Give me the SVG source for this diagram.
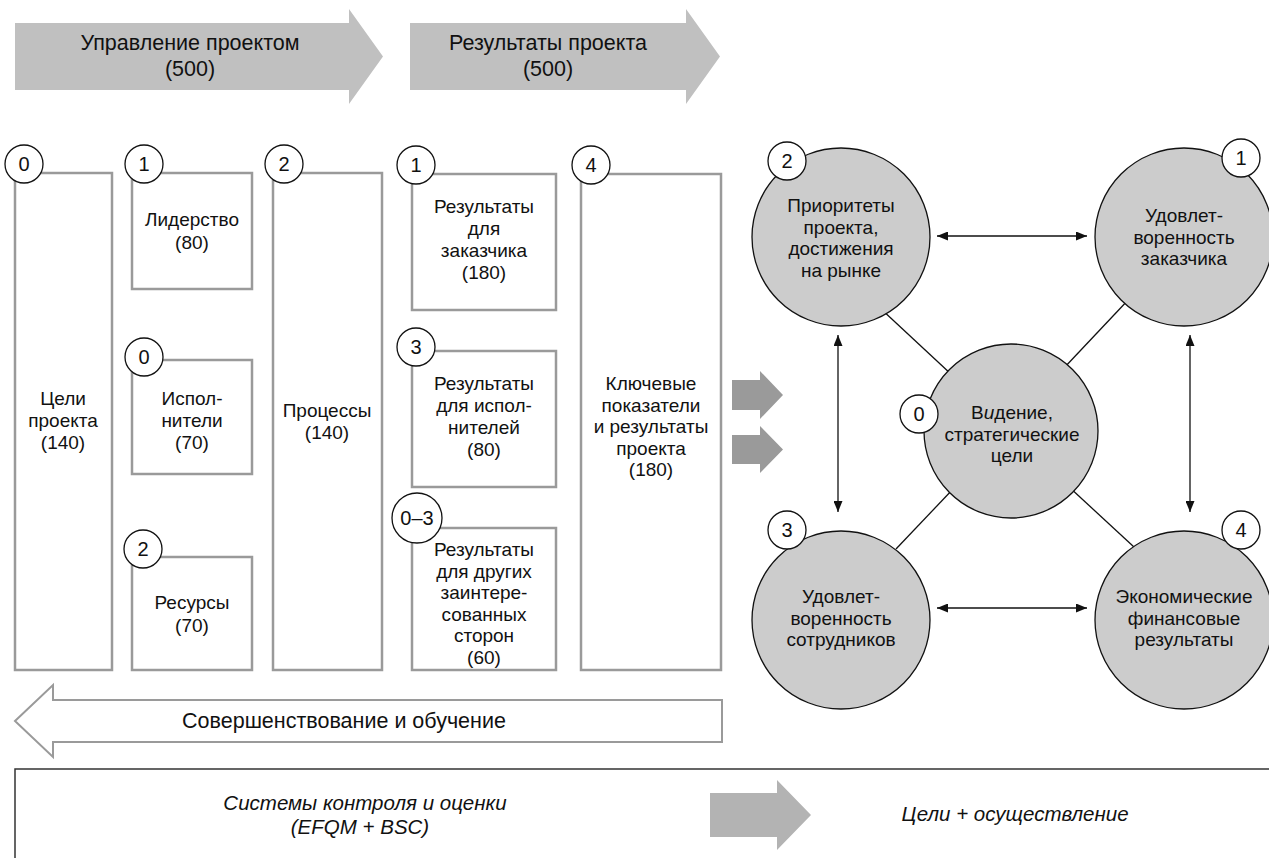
<svg xmlns="http://www.w3.org/2000/svg" width="1269" height="858" viewBox="0 0 1269 858">
  <style>
    text { font-family: "Liberation Sans", Arial, sans-serif; fill: #111; text-anchor: middle; }
    .hdr { font-size: 21.5px; }
    .lbl { font-size: 19px; }
    .num { font-size: 20px; }
    .it { font-size: 20.5px; font-style: italic; }
    .box { fill: #fff; stroke: #9a9a9a; stroke-width: 2.5; }
    .tag { fill: #fff; stroke: #111; stroke-width: 1.3; }
    .big { fill: #cccccc; stroke: #111; stroke-width: 1.3; }
    .band { fill: #c0c0c0; }
    .flow { fill: #9a9a9a; }
    .link { stroke: #111; stroke-width: 1.3; fill: none; }
    .dbl { stroke: #111; stroke-width: 1.3; fill: none; marker-start: url(#head); marker-end: url(#head); }
  </style>
  <defs>
    <marker id="head" markerUnits="userSpaceOnUse" markerWidth="11" markerHeight="9" refX="11" refY="4.5" orient="auto-start-reverse">
      <path d="M0,0 L11,4.5 L0,9 Z" fill="#111"/>
    </marker>
  </defs>

  <!-- header bands -->
  <g id="band-management">
    <polygon class="band" points="15,23 349,23 349,9 383,56.5 349,104 349,90 15,90"/>
    <text class="hdr" x="190" y="50">Управление проектом</text>
    <text class="hdr" x="190" y="76">(500)</text>
  </g>
  <g id="band-results">
    <polygon class="band" points="410,23 686,23 686,9 720,56.5 686,104 686,90 410,90"/>
    <text class="hdr" x="548" y="50">Результаты проекта</text>
    <text class="hdr" x="548" y="76">(500)</text>
  </g>

  <!-- criteria boxes -->
  <g id="box-goals">
    <rect class="box" x="15" y="173" width="97" height="497"/>
    <circle class="tag" cx="24" cy="164" r="19"/>
    <text class="num" x="24" y="171">0</text>
    <text class="lbl" x="63" y="405">Цели</text>
    <text class="lbl" x="63" y="427">проекта</text>
    <text class="lbl" x="63" y="449">(140)</text>
  </g>
  <g id="box-leadership">
    <rect class="box" x="132" y="173" width="120" height="116"/>
    <circle class="tag" cx="144" cy="164" r="19"/>
    <text class="num" x="144" y="171">1</text>
    <text class="lbl" x="192" y="226">Лидерство</text>
    <text class="lbl" x="192" y="249">(80)</text>
  </g>
  <g id="box-people">
    <rect class="box" x="132" y="360" width="120" height="114"/>
    <circle class="tag" cx="144" cy="357" r="19"/>
    <text class="num" x="144" y="364">0</text>
    <text class="lbl" x="192" y="405">Испол-</text>
    <text class="lbl" x="192" y="427">нители</text>
    <text class="lbl" x="192" y="449">(70)</text>
  </g>
  <g id="box-resources">
    <rect class="box" x="132" y="557" width="120" height="113"/>
    <circle class="tag" cx="143" cy="549" r="19"/>
    <text class="num" x="143" y="556">2</text>
    <text class="lbl" x="192" y="609">Ресурсы</text>
    <text class="lbl" x="192" y="632">(70)</text>
  </g>
  <g id="box-processes">
    <rect class="box" x="273" y="173" width="109" height="497"/>
    <circle class="tag" cx="284" cy="164" r="19"/>
    <text class="num" x="284" y="171">2</text>
    <text class="lbl" x="327" y="417">Процессы</text>
    <text class="lbl" x="327" y="439">(140)</text>
  </g>
  <g id="box-customer-results">
    <rect class="box" x="412" y="174" width="144" height="136"/>
    <circle class="tag" cx="416" cy="165" r="19"/>
    <text class="num" x="416" y="172">1</text>
    <text class="lbl" x="484" y="213">Результаты</text>
    <text class="lbl" x="484" y="235">для</text>
    <text class="lbl" x="484" y="257">заказчика</text>
    <text class="lbl" x="484" y="279">(180)</text>
  </g>
  <g id="box-people-results">
    <rect class="box" x="412" y="351" width="144" height="136"/>
    <circle class="tag" cx="416" cy="347" r="19"/>
    <text class="num" x="416" y="354">3</text>
    <text class="lbl" x="484" y="390">Результаты</text>
    <text class="lbl" x="484" y="412">для испол-</text>
    <text class="lbl" x="484" y="434">нителей</text>
    <text class="lbl" x="484" y="456">(80)</text>
  </g>
  <g id="box-society-results">
    <rect class="box" x="412" y="528" width="144" height="142"/>
    <circle class="tag" cx="417" cy="518" r="25"/>
    <text class="num" x="417" y="525">0–3</text>
    <text class="lbl" x="484" y="556">Результаты</text>
    <text class="lbl" x="484" y="577.5">для других</text>
    <text class="lbl" x="484" y="599">заинтере-</text>
    <text class="lbl" x="484" y="620.5">сованных</text>
    <text class="lbl" x="484" y="642">сторон</text>
    <text class="lbl" x="484" y="663.5">(60)</text>
  </g>
  <g id="box-key-results">
    <rect class="box" x="581" y="174" width="140" height="496"/>
    <circle class="tag" cx="591" cy="165" r="19"/>
    <text class="num" x="591" y="172">4</text>
    <text class="lbl" x="651" y="390">Ключевые</text>
    <text class="lbl" x="651" y="411.5">показатели</text>
    <text class="lbl" x="651" y="433">и результаты</text>
    <text class="lbl" x="651" y="454.5">проекта</text>
    <text class="lbl" x="651" y="476">(180)</text>
  </g>

  <!-- transfer arrows into the scorecard -->
  <g id="transfer">
    <polygon class="flow" points="732,380 760,380 760,371 783,395 760,419 760,410 732,410"/>
    <polygon class="flow" points="732,435 760,435 760,426 783,449.5 760,473 760,464 732,464"/>
  </g>

  <!-- scorecard connectors -->
  <g id="connectors">
    <line class="link" x1="880" y1="308" x2="952" y2="375"/>
    <line class="link" x1="1130" y1="298" x2="1063" y2="369"/>
    <line class="link" x1="954" y1="488" x2="896" y2="549"/>
    <line class="link" x1="1068" y1="486" x2="1134" y2="547"/>
    <line class="dbl" x1="937" y1="236" x2="1087" y2="236"/>
    <line class="dbl" x1="937" y1="608" x2="1087" y2="608"/>
    <line class="dbl" x1="838" y1="335" x2="838" y2="512"/>
    <line class="dbl" x1="1190" y1="335" x2="1190" y2="512"/>
  </g>

  <!-- scorecard perspectives -->
  <g id="node-priorities">
    <circle class="big" cx="841" cy="237" r="89"/>
    <circle class="tag" cx="787" cy="161" r="19"/>
    <text class="num" x="787" y="168">2</text>
    <text class="lbl" x="841" y="212">Приоритеты</text>
    <text class="lbl" x="841" y="233.5">проекта,</text>
    <text class="lbl" x="841" y="255">достижения</text>
    <text class="lbl" x="841" y="276.5">на рынке</text>
  </g>
  <g id="node-customer">
    <circle class="big" cx="1184" cy="237" r="89"/>
    <circle class="tag" cx="1241" cy="158" r="19"/>
    <text class="num" x="1241" y="165">1</text>
    <text class="lbl" x="1184" y="222">Удовлет-</text>
    <text class="lbl" x="1184" y="243.5">воренность</text>
    <text class="lbl" x="1184" y="265">заказчика</text>
  </g>
  <g id="node-vision">
    <circle class="big" cx="1011" cy="431" r="87"/>
    <circle class="tag" cx="919" cy="414" r="19"/>
    <text class="num" x="919" y="421">0</text>
    <text class="lbl" x="1012" y="419">В<tspan font-style="italic">и</tspan>дение,</text>
    <text class="lbl" x="1012" y="440.5">стратегические</text>
    <text class="lbl" x="1012" y="462">цели</text>
  </g>
  <g id="node-employees">
    <circle class="big" cx="841" cy="620" r="89"/>
    <circle class="tag" cx="787" cy="530" r="19"/>
    <text class="num" x="787" y="537">3</text>
    <text class="lbl" x="841" y="603">Удовлет-</text>
    <text class="lbl" x="841" y="624.5">воренность</text>
    <text class="lbl" x="841" y="646">сотрудников</text>
  </g>
  <g id="node-finance">
    <circle class="big" cx="1184" cy="620" r="89"/>
    <circle class="tag" cx="1241" cy="530" r="19"/>
    <text class="num" x="1241" y="537">4</text>
    <text class="lbl" x="1184" y="603">Экономические</text>
    <text class="lbl" x="1184" y="624.5">финансовые</text>
    <text class="lbl" x="1184" y="646">результаты</text>
  </g>

  <!-- improvement feedback arrow -->
  <g id="band-learning">
    <polygon fill="#fff" stroke="#9a9a9a" stroke-width="2" points="15,721 53,685 53,700 722,700 722,742 53,742 53,757"/>
    <text class="hdr" x="344" y="728">Совершенствование и обучение</text>
  </g>

  <!-- control system strip -->
  <g id="control-strip">
    <rect x="15" y="769" width="1270" height="110" fill="none" stroke="#333" stroke-width="1.5"/>
    <text class="it" x="365" y="810">Системы контроля и оценки</text>
    <text class="it" x="360" y="833.5">(EFQM + BSC)</text>
    <polygon fill="#b3b3b3" points="710,793 777,793 777,780 811,815 777,850 777,837 710,837"/>
    <text class="it" x="1015" y="821">Цели + осуществление</text>
  </g>
</svg>
